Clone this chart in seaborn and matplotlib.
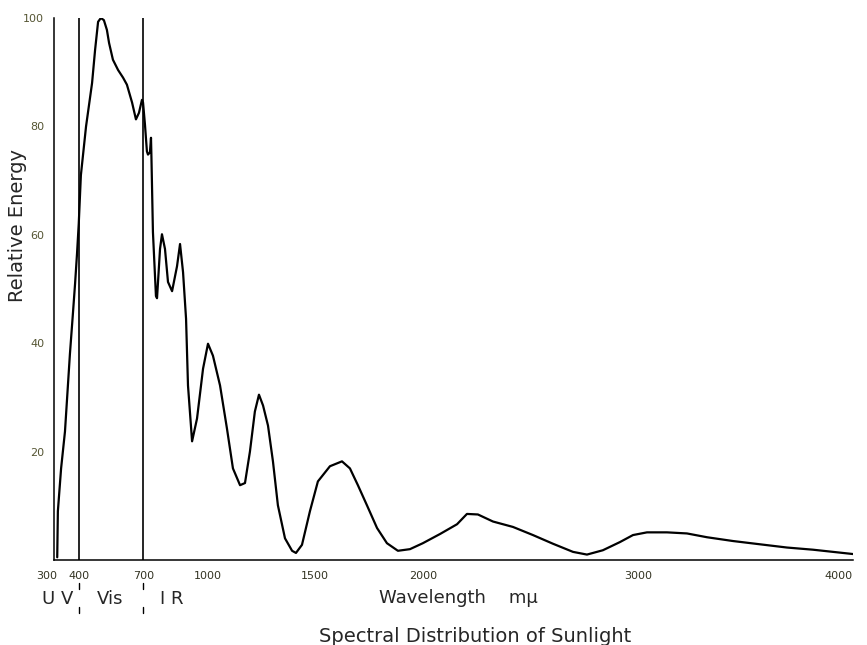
import matplotlib
matplotlib.use("Agg")
import matplotlib.pyplot as plt
import matplotlib.transforms as mtransforms
import seaborn as sns
import pandas as pd

# ---- data ----
wavelength = [300, 303, 318, 336, 359, 373, 383, 392, 400, 410, 434, 462, 476, 490, 503,
              517, 531, 541, 559, 583, 606, 624, 648, 666, 680, 694, 699, 708, 717,
              722, 731, 736, 738, 745, 759, 764, 778, 787, 801, 815, 834, 857, 871,
              885, 899, 908, 927, 950, 978, 1001, 1024, 1057, 1089, 1117, 1150, 1173,
              1196, 1219, 1238, 1257, 1280, 1303, 1326, 1359, 1392, 1410, 1438, 1475,
              1512, 1568, 1624, 1661, 1698, 1740, 1787, 1833, 1884, 1940, 2000, 2080,
              2159, 2205, 2256, 2326, 2419, 2512, 2605, 2698, 2763, 2837, 2916, 2977,
              3042, 3135, 3228, 3321, 3442, 3567, 3693, 3814, 3907, 4000]
energy = [0.5, 9.0, 16.9, 23.7, 38.0, 45.5, 51.0, 56.5, 62.0, 71.0, 80.0, 88.0, 94.1, 99.3, 100.0,
          99.6, 97.8, 95.4, 92.3, 90.4, 89.0, 87.7, 84.4, 81.3, 82.5, 84.9, 84.4, 80.3, 75.4,
          74.8, 75.2, 77.9, 74.4, 60.5, 48.7, 48.3, 57.4, 60.1, 57.4, 51.3, 49.6, 54.2, 58.3,
          53.1, 44.5, 32.2, 21.9, 26.1, 35.3, 39.9, 37.7, 32.2, 24.3, 16.9, 13.8, 14.2,
          20.0, 27.4, 30.5, 28.5, 24.8, 18.2, 10.1, 4.0, 1.7, 1.3, 2.8, 9.0,
          14.5, 17.3, 18.2, 16.9, 13.8, 10.1, 5.9, 3.1, 1.7, 2.0, 3.1, 4.8,
          6.6, 8.5, 8.4, 7.1, 6.1, 4.6, 3.0, 1.5, 1.0, 1.8, 3.3, 4.6,
          5.1, 5.1, 4.9, 4.2, 3.5, 2.9, 2.3, 1.9, 1.5, 1.1]

x_ticks = [300, 400, 700, 1000, 1500, 2000, 3000, 4000]
y_ticks = [20, 40, 60, 80, 100]
region_bounds = [400, 700]

df = pd.DataFrame({"wavelength": wavelength, "energy": energy})

sns.set_style("white")
plt.rcParams["font.family"] = ["DejaVu Sans"]

fig = plt.figure(figsize=(8.67, 6.45), dpi=100)
ax = fig.add_axes([54 / 867, 1 - 560 / 645, (853 - 54) / 867, (560 - 18) / 645])

sns.lineplot(data=df, x="wavelength", y="energy", sort=False, color="black",
             linewidth=1.6, ax=ax, estimator=None)

for b in region_bounds:
    ax.axvline(b, color="black", linewidth=1.2, ymin=0, ymax=1)

ax.set_xlim(285, 4000)
ax.set_ylim(0, 100)
ax.set_xticks(x_ticks)
ax.set_xticklabels([str(t) for t in x_ticks])
ax.set_yticks(y_ticks)
ax.set_yticklabels([str(t) for t in y_ticks])

for s in ["top", "right"]:
    ax.spines[s].set_visible(False)
for s in ["left", "bottom"]:
    ax.spines[s].set_color("black")
    ax.spines[s].set_linewidth(1.1)

ax.tick_params(axis="x", direction="in", length=5, width=1.0, colors="black",
               labelsize=8, pad=8, labelcolor="#333322")
ax.tick_params(axis="y", direction="in", length=5, width=1.0, colors="black",
               labelsize=8, pad=7, labelcolor="#555533")
# keep the edge labels readable
xt = ax.get_xticklabels()
xt[0].set_horizontalalignment("right")
xt[-1].set_horizontalalignment("right")
ax.set_xlabel("")
ax.set_ylabel("")

# Region labels row (UV | Vis | IR) with small separator marks
trans = mtransforms.blended_transform_factory(ax.transData, fig.transFigure)
for b in region_bounds:
    ax.plot([b, b], [1 - 583 / 645, 1 - 589 / 645], color="black", lw=1.0,
            transform=trans, clip_on=False)
    ax.plot([b, b], [1 - 607 / 645, 1 - 613 / 645], color="black", lw=1.0,
            transform=trans, clip_on=False)
fig.text(58 / 867, 1 - 599 / 645, "U V", fontsize=13, ha="center", va="center")
fig.text(110 / 867, 1 - 599 / 645, "Vis", fontsize=13, ha="center", va="center")
fig.text(172 / 867, 1 - 599 / 645, "I R", fontsize=13, ha="center", va="center")

fig.text(458 / 867, 1 - 598 / 645, "Wavelength    mμ", fontsize=13,
         ha="center", va="center")
fig.text(475 / 867, 1 - 636 / 645, "Spectral Distribution of Sunlight",
         fontsize=14, ha="center", va="center")
fig.text(18 / 867, 1 - 226 / 645, "Relative Energy", fontsize=14,
         rotation=90, ha="center", va="center")

fig.savefig("out.png", dpi=100, facecolor="white")
